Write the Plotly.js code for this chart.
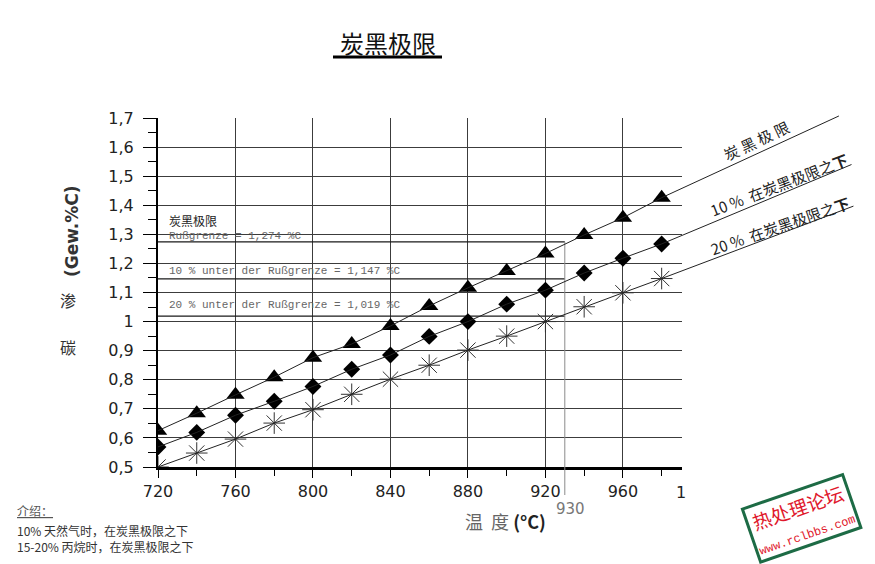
<!DOCTYPE html>
<html>
<head>
<meta charset="utf-8">
<script src="https://cdn.plot.ly/plotly-3.0.1.min.js"></script>
<style>
  html, body { margin: 0; padding: 0; background: white; }
  #chart { width: 875px; height: 564px; }
</style>
</head>
<body>
<div id="chart"></div>
<script>
// DATA
var temps = [720, 740, 760, 780, 800, 820, 840, 860, 880, 900, 920, 940, 960, 980];
var limitY = [0.625, 0.685, 0.748, 0.809, 0.876, 0.923, 0.985, 1.054, 1.116, 1.174, 1.234, 1.298, 1.357, 1.426];
var tenBelowY = [0.569, 0.619, 0.678, 0.726, 0.777, 0.836, 0.885, 0.949, 1.0, 1.06, 1.108, 1.167, 1.218, 1.267];
var twentyBelowY = [0.5, 0.548, 0.596, 0.651, 0.697, 0.75, 0.802, 0.85, 0.902, 0.95, 1.0, 1.051, 1.099, 1.148];

// where the three trend lines run out, right of the grid
var lineEndX = [1071.5, 1078, 1079];
var lineEndY = [1.707, 1.54, 1.397];

// reference levels (Rußgrenze, -10 %, -20 %) drawn up to 930 °C
var refLevels = [1.274, 1.147, 1.019];
var refTemp = 930;

var yTickVals = [0.5, 0.6, 0.7, 0.8, 0.9, 1.0, 1.1, 1.2, 1.3, 1.4, 1.5, 1.6, 1.7];
var yTickText = ['0,5', '0,6', '0,7', '0,8', '0,9', '1', '1,1', '1,2', '1,3', '1,4', '1,5', '1,6', '1,7'];

// LAYOUT GEOMETRY (pixels)
var W = 875, H = 564;
var plotL = 158, plotR = 682, plotT = 118, plotB = 467;   // the gridded area
var outerR = 860, outerT = 100, outerB = 504;             // room for the lines to run out
var xRange = [720, 990.5];
var yRange = [0.5, 1.7];
var pxPerX = (plotR - plotL) / (xRange[1] - xRange[0]);
var pxPerY = (plotB - plotT) / (yRange[1] - yRange[0]);
var x2Range = [xRange[0], xRange[0] + (outerR - plotL) / pxPerX];
var y2Range = [yRange[0] - (outerB - plotB) / pxPerY, yRange[1] + (plotT - outerT) / pxPerY];

function px(x) { return (x - plotL) / (outerR - plotL); }
function py(y) { return (outerB - y) / (outerB - outerT); }
function yAt(pixY) { return yRange[0] + (plotB - pixY) / pxPerY; }

var CJK = '"Noto Sans CJK SC", sans-serif';
var MONO = '"Liberation Mono", monospace';
var NUM = '"DejaVu Sans", sans-serif';

var data = [];

// reference level lines
refLevels.forEach(function (lv) {
  data.push({
    x: [xRange[0], refTemp], y: [lv, lv],
    mode: 'lines', line: {color: '#1a1a1a', width: 1.2},
    xaxis: 'x', yaxis: 'y', type: 'scatter'
  });
});

// 930 marker line, runs below the axis
data.push({
  x: [refTemp, refTemp], y: [refLevels[0], yAt(495)],
  mode: 'lines', line: {color: '#8a8a8a', width: 1},
  xaxis: 'x2', yaxis: 'y2', type: 'scatter'
});

// trend lines (extend past the grid)
[limitY, tenBelowY, twentyBelowY].forEach(function (ys, i) {
  data.push({
    x: temps.concat([lineEndX[i]]),
    y: ys.concat([lineEndY[i]]),
    mode: 'lines', line: {color: '#222', width: 1},
    xaxis: 'x2', yaxis: 'y2', type: 'scatter'
  });
});

// markers
data.push({
  x: temps, y: limitY, mode: 'markers',
  marker: {symbol: 'triangle-up', size: 16, color: 'black'},
  xaxis: 'x', yaxis: 'y', type: 'scatter'
});
data.push({
  x: temps, y: tenBelowY, mode: 'markers',
  marker: {symbol: 'diamond', size: 13, color: 'black'},
  xaxis: 'x', yaxis: 'y', type: 'scatter'
});
data.push({
  x: temps, y: twentyBelowY, mode: 'markers',
  marker: {symbol: 'asterisk-open', size: 18, color: '#333', line: {color: '#333', width: 1}},
  xaxis: 'x', yaxis: 'y', type: 'scatter'
});

var annotations = [
  // title
  {text: '炭黑极限', x: px(388), y: py(42), font: {family: CJK, size: 24, color: '#111'}},
  // y axis title
  {text: '<b>(Gew.%C)</b>', textangle: -90, x: px(72), y: py(231), font: {family: NUM, size: 17, color: '#333'}},
  {text: '渗', x: px(68), y: py(300), font: {family: CJK, size: 16, color: '#333'}},
  {text: '碳', x: px(68), y: py(347), font: {family: CJK, size: 16, color: '#333'}},
  // x axis title
  {text: '<span style="color:#666">温&nbsp;&nbsp;度</span>&nbsp;<b>(°C)</b>', x: px(505), y: py(521),
   font: {family: CJK, size: 18, color: '#222'}},
  {text: '930', x: px(570), y: py(509), font: {family: NUM, size: 15, color: '#777'}},
  {text: '1', x: px(681), y: py(492), font: {family: NUM, size: 16, color: '#222'}},
  // in-plot notes
  {text: '炭黑极限', x: px(167), y: py(220), xanchor: 'left', font: {family: CJK, size: 12, color: '#222'}},
  {text: 'Rußgrenze = 1,274 %C', x: px(167), y: py(236), xanchor: 'left', font: {family: MONO, size: 11, color: '#666'}},
  {text: '10 % unter der Rußgrenze = 1,147 %C', x: px(167), y: py(271), xanchor: 'left', font: {family: MONO, size: 11, color: '#666'}},
  {text: '20 % unter der Rußgrenze = 1,019 %C', x: px(167), y: py(305), xanchor: 'left', font: {family: MONO, size: 11, color: '#666'}},
  // labels along the lines
  {text: '炭 黑 极 限', textangle: -25, x: px(756), y: py(140), font: {family: CJK, size: 15, color: '#222'}},
  {text: '10 %  在炭黑极限之<b>下</b>', textangle: -21, x: px(779), y: py(184), font: {family: CJK, size: 15, color: '#222'}},
  {text: '20 %  在炭黑极限之<b>下</b>', textangle: -19, x: px(780), y: py(225), font: {family: CJK, size: 15, color: '#222'}},
  // bottom-left notes
  {text: '<u>介绍：</u>', x: px(15), y: py(510), xanchor: 'left', font: {family: CJK, size: 12, color: '#555'}},
  {text: '10% 天然气时，在炭黑极限之下', x: px(15), y: py(530), xanchor: 'left', font: {family: CJK, size: 12, color: '#333'}},
  {text: '15-20% 丙烷时，在炭黑极限之下', x: px(15), y: py(546), xanchor: 'left', font: {family: CJK, size: 12, color: '#333'}},
  // watermark stamp
  {text: '热处理论坛<br><span style="font-family:Liberation Mono;font-size:12px">www.rclbbs.com</span>',
   textangle: -19, x: px(801), y: py(518), align: 'center',
   font: {family: CJK, size: 19, color: '#e0182c'},
   bordercolor: '#1d6b45', borderwidth: 3, borderpad: 1, bgcolor: 'white'}
];
annotations.forEach(function (a) {
  a.xref = 'paper'; a.yref = 'paper'; a.showarrow = false;
  if (!a.xanchor) a.xanchor = 'center';
  a.yanchor = 'middle';
});

var layout = {
  width: W, height: H,
  margin: {l: plotL, r: W - outerR, t: outerT, b: H - outerB, pad: 0},
  paper_bgcolor: 'white',
  plot_bgcolor: 'rgba(0,0,0,0)',
  showlegend: false,
  hovermode: false,
  xaxis: {
    domain: [0, (plotR - plotL) / (outerR - plotL)],
    anchor: 'y',
    range: xRange,
    tickmode: 'linear', tick0: 720, dtick: 40,
    ticks: 'outside', ticklen: 8, tickcolor: 'black',
    minor: {tickmode: 'linear', tick0: 720, dtick: 20, ticks: 'outside', ticklen: 6, tickcolor: 'black', showgrid: false},
    showgrid: true, gridcolor: '#3c3c3c', gridwidth: 1,
    showline: true, linecolor: 'black', linewidth: 3,
    zeroline: false,
    tickfont: {family: NUM, size: 16, color: '#222'}
  },
  yaxis: {
    domain: [(outerB - plotB) / (outerB - outerT), (outerB - plotT) / (outerB - outerT)],
    anchor: 'x',
    range: yRange,
    tickmode: 'array', tickvals: yTickVals, ticktext: yTickText,
    ticks: 'outside', ticklen: 13, tickcolor: 'black',
    ticklabelstandoff: 6,
    minor: {tickmode: 'linear', tick0: 0.55, dtick: 0.1, ticks: 'outside', ticklen: 8, tickcolor: 'black', showgrid: false},
    showgrid: true, gridcolor: '#3c3c3c', gridwidth: 1,
    showline: true, linecolor: 'black', linewidth: 2,
    zeroline: false,
    tickfont: {family: NUM, size: 16, color: '#222'}
  },
  xaxis2: {domain: [0, 1], anchor: 'y2', range: x2Range, visible: false, fixedrange: true},
  yaxis2: {domain: [0, 1], anchor: 'x2', range: y2Range, visible: false, fixedrange: true},
  annotations: annotations,
  shapes: [
    // title underline
    {type: 'line', xref: 'paper', yref: 'paper', x0: px(333), x1: px(442), y0: py(57), y1: py(57),
     line: {color: 'black', width: 3}}
  ]
};

Plotly.newPlot('chart', data, layout, {staticPlot: true, displayModeBar: false});
</script>
</body>
</html>
